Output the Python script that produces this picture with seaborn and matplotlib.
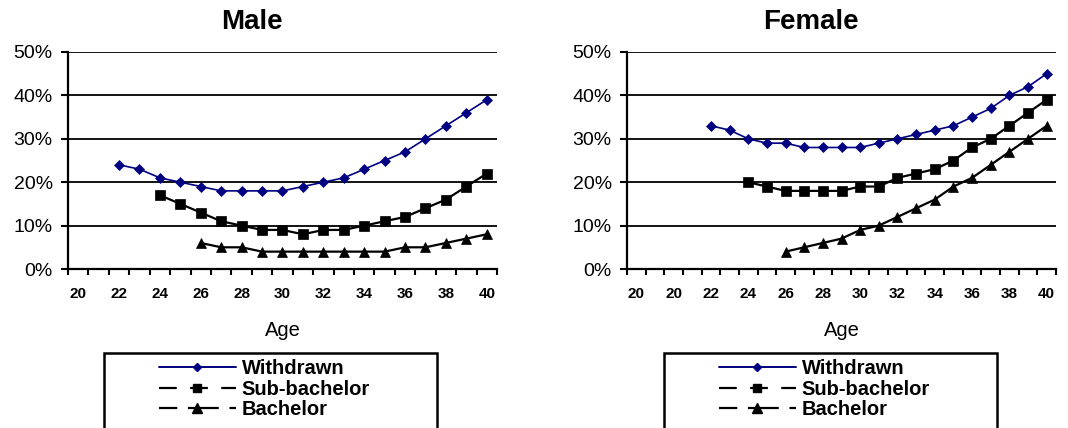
import numpy as np
import pandas as pd
import matplotlib
matplotlib.use("Agg")
import matplotlib.pyplot as plt
import matplotlib.patches as mpatches
from matplotlib.lines import Line2D
from matplotlib.ticker import FuncFormatter
import seaborn as sns

# data (share of each group, in %)
ages = list(range(22, 41))

male_withdrawn = [24, 23, 21, 20, 19, 18, 18, 18, 18, 19, 20, 21, 23, 25, 27, 30, 33, 36, 39]
male_sub_bachelor = [None, None, 17, 15, 13, 11, 10, 9, 9, 8, 9, 9, 10, 11, 12, 14, 16, 19, 22]
male_bachelor = [None, None, None, None, 6, 5, 5, 4, 4, 4, 4, 4, 4, 4, 5, 5, 6, 7, 8]

female_withdrawn = [33, 32, 30, 29, 29, 28, 28, 28, 28, 29, 30, 31, 32, 33, 35, 37, 40, 42, 45]
female_sub_bachelor = [None, None, 20, 19, 18, 18, 18, 18, 19, 19, 21, 22, 23, 25, 28, 30, 33, 36, 39]
female_bachelor = [None, None, None, None, 4, 5, 6, 7, 9, 10, 12, 14, 16, 19, 21, 24, 27, 30, 33]

# category axis tick labels (every other category is labelled)
male_ticklabels = ["20", "22", "24", "26", "28", "30", "32", "34", "36", "38", "40"]
female_ticklabels = ["20", "20", "22", "24", "26", "28", "30", "32", "34", "36", "38", "40"]

series_names = ["Withdrawn", "Sub-bachelor", "Bachelor"]

sns.set_style("white")
plt.rcParams['font.family'] = ['Liberation Sans', 'DejaVu Sans']
plt.rcParams.update({"text.color": "black", "axes.labelcolor": "black",
                     "xtick.color": "black", "ytick.color": "black"})

W, H = 1068, 428
fig = plt.figure(figsize=(W / 100, H / 100), dpi=100)

def fx(px):
    return px / W

def fy(py):
    return 1 - py / H

styles = {
    "Withdrawn": dict(color="#000080", marker="D", ms=5, lw=1.2),
    "Sub-bachelor": dict(color="black", marker="s", ms=7, lw=1.6),
    "Bachelor": dict(color="black", marker="^", ms=7.5, lw=1.6),
}
legend_dashes = {
    "Withdrawn": "-",
    "Sub-bachelor": (0, (8, 6)),
    "Bachelor": (0, (8.2, 4.8, 13.9, 4.8)),
}


def panel(left, title, title_x, series, ticklabels, n_cats, box_left):
    ax = fig.add_axes([fx(left), fy(269), fx(429), (269 - 52) / H])
    offset = n_cats - len(ages)  # data sits at the right end of the category axis
    for name, vals in zip(series_names, series):
        df = pd.DataFrame({"pos": [offset + i for i in range(len(ages))], "val": vals}).dropna()
        df["val"] = df["val"] / 100
        st = styles[name]
        sns.lineplot(data=df, x="pos", y="val", ax=ax, color=st["color"], marker=st["marker"],
                     ms=st["ms"], lw=st["lw"], markeredgecolor=st["color"], markeredgewidth=0.5,
                     legend=False)

    ax.set_xlim(-0.5, n_cats - 0.5)
    ax.set_ylim(0, 0.5)
    ax.set_yticks(np.arange(0, 0.51, 0.1))
    ax.yaxis.set_major_formatter(FuncFormatter(lambda v, p: f"{v * 100:.0f}%"))
    ax.set_xticks(np.arange(0, n_cats, 2))
    ax.set_xticklabels(ticklabels, fontweight="bold", fontsize=11)
    ax.set_xticks(np.arange(-0.5, n_cats, 1), minor=True)
    ax.tick_params(axis="x", which="major", bottom=True, length=0, pad=13)
    ax.tick_params(axis="x", which="minor", bottom=True, length=4.5, width=1.5, direction="out", color="black")
    ax.tick_params(axis="y", left=True, length=5, width=1.5, direction="out", color="black", labelsize=14, pad=6)
    ax.grid(axis="y", color="black", lw=1.3)
    ax.grid(axis="x", visible=False)
    for s in ["top", "right"]:
        ax.spines[s].set_visible(False)
    for s in ["left", "bottom"]:
        ax.spines[s].set_color("black")
        ax.spines[s].set_linewidth(1.6)
    ax.set_xlabel("")
    ax.set_ylabel("")
    ax.set_axisbelow(True)

    fig.text(fx(title_x), fy(22), title, ha="center", va="center", fontsize=20, fontweight="bold")
    fig.text(fx(left + 429 / 2), fy(331), "Age", ha="center", va="center", fontsize=14.5)

    # legend box runs off the bottom of the image
    box = mpatches.Rectangle((fx(box_left), fy(470)), fx(333), (470 - 353) / H,
                             transform=fig.transFigure, fill=False, edgecolor="black", lw=1.8,
                             clip_on=False)
    fig.patches.append(box)
    handles = []
    for name in series_names:
        st = styles[name]
        handles.append(Line2D([], [], color=st["color"], marker=st["marker"], ms=st["ms"] - 1,
                              lw=1.6 if name != "Withdrawn" else 1.4,
                              linestyle=legend_dashes[name], markeredgecolor=st["color"]))
    fig.legend(handles, series_names, loc="upper left", bbox_to_anchor=(fx(box_left + 55), fy(359)),
               frameon=False, borderpad=0, borderaxespad=0, handlelength=3.8, handletextpad=0.3,
               labelspacing=0.08, prop={"weight": "bold", "size": 14.5})
    return ax


panel(68, "Male", 252, [male_withdrawn, male_sub_bachelor, male_bachelor], male_ticklabels, 21, 104)
panel(627, "Female", 811, [female_withdrawn, female_sub_bachelor, female_bachelor], female_ticklabels, 23, 664)

fig.savefig("out.png", dpi=100)
